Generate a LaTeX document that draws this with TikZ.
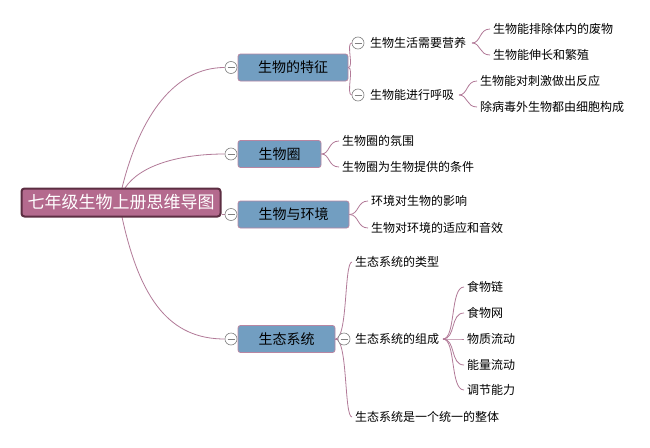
\documentclass[tikz,border=0pt]{standalone}
\usepackage{fontspec}
\usetikzlibrary{backgrounds}
\newfontfamily\cjk{Noto Sans CJK SC}
\definecolor{rootfill}{RGB}{180,106,142}
\definecolor{rootborder}{RGB}{92,46,66}
\definecolor{lonefill}{RGB}{114,158,193}
\definecolor{loneborder}{RGB}{184,134,162}
\definecolor{linkc}{RGB}{178,122,152}
\definecolor{circc}{RGB}{128,128,128}
\tikzset{
  rootbox/.style={draw=rootborder, line width=2pt, fill=rootfill, rounded corners=3pt,
    minimum width=199pt, minimum height=28pt, inner sep=0pt, text=white,
    font=\cjk\fontsize{17}{17}\selectfont},
  lonebox/.style={draw=loneborder, line width=0.8pt, fill=lonefill, rounded corners=2.5pt,
    minimum height=27pt, inner sep=0pt, text=black, font=\cjk\fontsize{14}{14}\selectfont},
  leaf/.style={anchor=west, inner xsep=3pt, inner ysep=1pt, text=black,
    font=\cjk\fontsize{12}{12}\selectfont},
  collapse/.style={circle, draw=circc, fill=white, minimum size=12pt, inner sep=0pt, line width=0.6pt,
    path picture={\draw[circc, line width=0.6pt] ([xshift=2.5pt]path picture bounding box.west) -- ([xshift=-2.5pt]path picture bounding box.east);}},
  link/.style={draw=linkc, line width=0.8pt}
}
\begin{document}
\begin{tikzpicture}[x=1pt,y=-1pt]
\begin{scope}[on background layer]
\fill[white] (0,0) rectangle (650,447);
\end{scope}
\useasboundingbox (0,0) rectangle (650,447);

\coordinate (rt1) at (122,188);
\coordinate (rt2) at (125,188);
\coordinate (rb) at (122,217);

% root
\node[rootbox] (root) at (121,202.5) {七年级生物上册思维导图};

% level 1
\node[lonebox, minimum width=110pt] (f1) at (293,67.5) {生物的特征};
\node[lonebox, minimum width=83pt] (f2) at (279.5,154) {生物圈};
\node[lonebox, minimum width=111pt] (f3) at (293.5,214.5) {生物与环境};
\node[lonebox, minimum width=97pt] (f4) at (286.5,339) {生态系统};

\node[collapse] (c1) at (231,67.5) {};
\node[collapse] (c2) at (231,154) {};
\node[collapse] (c3) at (231,214.5) {};
\node[collapse] (c4) at (231,339) {};

\begin{scope}[on background layer]
\path[link] (rt1) .. controls (140,115) and (175,67.5) .. (c1.west);
\path[link] (rt2) .. controls (140,165) and (180,154) .. (c2.west);
\path[link] (root.east |- c3) -- (c3.west);
\path[link] (rb) .. controls (140,300) and (170,339) .. (c4.west);
\end{scope}

% ---- 生物的特征 ----
\node[collapse] (a1) at (358,43) {};
\node[collapse] (a2) at (358,95) {};
\node[leaf] (t11) at (367,43) {生物生活需要营养};
\node[leaf] (t12) at (367,95) {生物能进行呼吸};
\path[link] (f1.east) .. controls (354,67.5) and (346,43) .. (a1.west);
\path[link] (f1.east) .. controls (354,67.5) and (346,95) .. (a2.west);

\node[leaf] (l111) at (490,29) {生物能排除体内的废物};
\node[leaf] (l112) at (490,55) {生物能伸长和繁殖};
\coordinate (b11) at (472,43);
\path[link] (b11) .. controls (481,43) and (479,29) .. (l111.west);
\path[link] (b11) .. controls (481,43) and (479,55) .. (l112.west);

\node[leaf] (l121) at (477,81) {生物能对刺激做出反应};
\node[leaf] (l122) at (477,107) {除病毒外生物都由细胞构成};
\coordinate (b12) at (459,95);
\path[link] (b12) .. controls (468,95) and (466,81) .. (l121.west);
\path[link] (b12) .. controls (468,95) and (466,107) .. (l122.west);

% ---- 生物圈 ----
\node[leaf] (l21) at (339,141) {生物圈的氛围};
\node[leaf] (l22) at (339,167) {生物圈为生物提供的条件};
\path[link] (f2.east) .. controls (330,154) and (328,141) .. (l21.west);
\path[link] (f2.east) .. controls (330,154) and (328,167) .. (l22.west);

% ---- 生物与环境 ----
\node[leaf] (l31) at (368,201) {环境对生物的影响};
\node[leaf] (l32) at (368,228) {生物对环境的适应和音效};
\path[link] (f3.east) .. controls (359,214.5) and (357,201) .. (l31.west);
\path[link] (f3.east) .. controls (359,214.5) and (357,228) .. (l32.west);

% ---- 生态系统 ----
\node[collapse] (d2) at (344,339) {};
\node[leaf] (l41) at (352,262) {生态系统的类型};
\node[leaf] (l42) at (352,339) {生态系统的组成};
\node[leaf] (l43) at (352,417) {生态系统是一个统一的整体};
\begin{scope}[on background layer]
\path[link] (f4.east) .. controls (348,339) and (344,262) .. (l41.west);
\path[link] (f4.east) .. controls (348,339) and (344,417) .. (l43.west);
\path[link] (f4.east) -- (d2.west);
\end{scope}

\coordinate (b42) at (443,339);
\node[leaf] (m1) at (464,287) {食物链};
\node[leaf] (m2) at (464,313) {食物网};
\node[leaf] (m3) at (464,339) {物质流动};
\node[leaf] (m4) at (464,365) {能量流动};
\node[leaf] (m5) at (464,390) {调节能力};
\foreach \m in {m1,m2,m3,m4,m5}{
  \path[link] (b42) .. controls (456,339) and (450,0 |- \m.west) .. (\m.west);
}
\end{tikzpicture}
\end{document}
